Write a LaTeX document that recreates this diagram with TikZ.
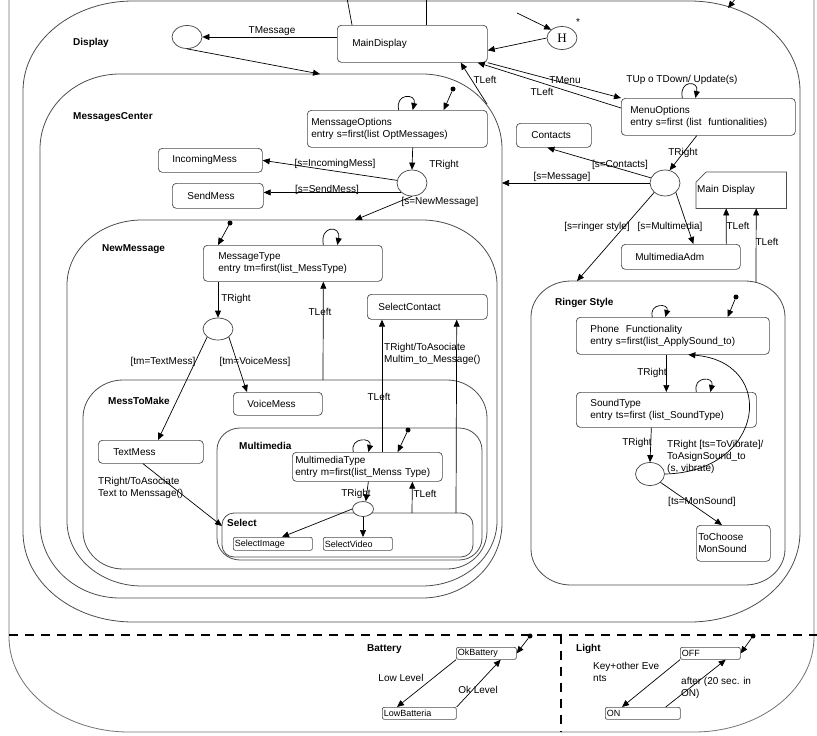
\documentclass[tikz,border=0pt]{standalone}
\usepackage{fontspec}
\setmainfont{Liberation Sans}
\newfontfamily\serifH{Liberation Serif}
\usetikzlibrary{arrows.meta,shapes.geometric,calc}

\newcommand\erect[7][]{%
 \draw[cont,#1] ({#2+#6},#3) -- ({#4-#6},#3)
   .. controls ({#4-#6+0.5523*#6},#3) and (#4,{#3+#7-0.5523*#7}) .. (#4,{#3+#7})
   -- (#4,{#5-#7})
   .. controls (#4,{#5-#7+0.5523*#7}) and ({#4-#6+0.5523*#6},#5) .. ({#4-#6},#5)
   -- ({#2+#6},#5)
   .. controls ({#2+#6-0.5523*#6},#5) and (#2,{#5-#7+0.5523*#7}) .. (#2,{#5-#7})
   -- (#2,{#3+#7})
   .. controls (#2,{#3+#7-0.5523*#7}) and ({#2+#6-0.5523*#6},#3) .. ({#2+#6},#3) -- cycle;}

\tikzset{
  base/.style={font=\fontsize{10}{12}\selectfont},
  box/.style={base, draw=black!70, fill=white, line width=0.7pt, rounded corners=4pt, inner ysep=0pt, anchor=north west, align=left},
  sbox/.style={box, rounded corners=2pt, font=\fontsize{9}{10}\selectfont, inner xsep=1.5pt},
  lab/.style={base, inner sep=0pt},
  mlab/.style={lab, anchor=west, align=left},
  title/.style={font=\fontsize{10}{12}\selectfont\bfseries, inner sep=0pt, anchor=west},
  arr/.style={line width=0.7pt, -{Triangle[length=7pt,width=6pt]}},
  ln/.style={line width=0.7pt},
  choice/.style={draw=black!75, fill=white, line width=0.7pt, ellipse, inner sep=0pt},
  dot/.style={circle, fill=black, inner sep=0pt, minimum size=5pt},
  cont/.style={draw=black!70, line width=0.8pt},
  sepline/.style={line width=1.6pt, dash pattern=on 9pt off 7pt}
}

\begin{document}
\begin{tikzpicture}[x=1pt,y=-1pt]
\useasboundingbox (0,0) rectangle (817,736);
\clip (0,0) rectangle (817,736);

% containers
\erect[draw=black!55]{9}{-200}{814}{732}{120}{95}
\erect{23}{1}{800}{622}{110}{90}
\erect{40}{74}{502}{598}{80}{75}
\erect{67}{220}{497}{586}{75}{65}
\erect{83}{380}{487}{569}{40}{38}
\erect{217}{428}{482}{560}{23}{22}
\erect{222}{513}{473}{557}{12}{12}
\erect{531}{281}{785}{585}{40}{36}

\draw[sepline] (9,635) -- (817,635);
\draw[sepline] (561,635) -- (561,732);

% titles
\node[title] (tDisp) at (73,43) {Display};
\node[title] (tMC) at (73,117) {MessagesCenter};
\node[title] (tNM) at (102,249) {NewMessage};
\node[title] (tM2M) at (108,401) {MessToMake};
\node[title] (tMM) at (239,446) {Multimedia};
\node[title] (tSel) at (227,523) {Select};
\node[title] (tRS) at (555,303) {Ringer Style};
\node[title] (tBat) at (367,649) {Battery};
\node[title] (tLight) at (576,649) {Light};

% states
\node[box, inner xsep=15pt, text width=120pt, minimum height=37pt] (md) at (337,25) {MainDisplay};
\node[box, inner xsep=9pt, text width=156pt, minimum height=37pt] (mo) at (621,98) {MenuOptions\\entry s=first (list\ \ funtionalities)};
\node[box, inner xsep=4pt, text width=172pt, minimum height=37pt] (mso) at (307,110) {MenssageOptions\\entry s=first(list OptMessages)};
\node[box, inner xsep=14pt, text width=76pt, minimum height=24pt] (inc) at (158,148) {IncomingMess};
\node[box, inner xsep=15pt, text width=61pt, minimum height=25pt] (snd) at (172,183) {SendMess};
\node[box, inner xsep=15pt, text width=45pt, minimum height=24pt] (cont) at (516,123) {Contacts};
\node[lab, anchor=north west, minimum width=90pt, minimum height=36pt, text width=88pt, inner xsep=1pt, align=left] (md2) at (696,172) {Main Display};
\draw[draw=black!70, line width=0.7pt] ($(md2.north west)+(0,10)$) -- ($(md2.north west)+(10,0)$) -- (md2.north east) -- (md2.south east) -- (md2.south west) -- cycle;
\node[box, inner xsep=14pt, text width=91pt, minimum height=25pt] (mma) at (621,244) {MultimediaAdm};
\node[box, inner xsep=15pt, text width=149pt, minimum height=36pt] (mt) at (203,245) {MessageType\\entry tm=first(list\_MessType)};
\node[box, inner xsep=11pt, text width=98pt, minimum height=25pt] (sc) at (367,294) {SelectContact};
\node[box, inner xsep=14pt, text width=61pt, minimum height=23pt] (vm) at (233,392) {VoiceMess};
\node[box, inner xsep=15pt, text width=75pt, minimum height=23pt] (tm) at (98,440) {TextMess};
\node[box, inner xsep=3pt, text width=144pt, minimum height=29pt] (mmt) at (292,452) {MultimediaType\\entry m=first(list\_Menss Type)};
\node[sbox, text width=76pt, minimum height=13pt] (si) at (233,537) {SelectImage};
\node[sbox, text width=66pt, minimum height=13pt] (sv) at (323,537) {SelectVideo};
\node[box, inner xsep=14pt, text width=165pt, minimum height=37pt] (pf) at (576,317) {Phone\ \ Functionality\\entry s=first(list\_ApplySound\_to)};
\node[box, inner xsep=14pt, text width=152pt, minimum height=35pt] (st) at (576,392) {SoundType\\entry ts=first (list\_SoundType)};
\node[box, inner xsep=2pt, text width=70pt, minimum height=36pt] (tc) at (696,525) {ToChoose\\MonSound};
\node[sbox, text width=57pt, minimum height=12pt] (okb) at (456,647) {OkBattery};
\node[sbox, text width=71pt, minimum height=12pt] (lowb) at (382,707) {LowBatteria};
\node[sbox, text width=57pt, minimum height=12pt] (off) at (680,647) {OFF};
\node[sbox, text width=72pt, minimum height=12pt] (on) at (605,707) {ON};

% pseudo states
\node[choice, minimum width=30pt, minimum height=23pt] (e1) at (187,37) {};
\node[choice, minimum width=30pt, minimum height=23pt, font=\serifH\fontsize{13}{13}\selectfont] (H) at (562,38) {H};
\node[choice, minimum width=30pt, minimum height=26pt] (c1) at (412,183) {};
\node[choice, minimum width=30pt, minimum height=26pt] (c2) at (665,183) {};
\node[choice, minimum width=30pt, minimum height=22pt] (c3) at (218,329) {};
\node[choice, minimum width=21pt, minimum height=15pt] (c4) at (363,509) {};
\node[choice, minimum width=29pt, minimum height=23pt] (c5) at (650,474) {};
\node[dot] (d1) at (453,89) {};
\node[dot] (d2) at (230,223) {};
\node[dot] (d3) at (408,430) {};
\node[dot] (d4) at (736,297) {};
\node[dot] (d5) at (530,636) {};
\node[dot] (d6) at (753,636) {};

% free ends / container points
\coordinate (mcTop) at (320,74);
\coordinate (mcTL) at (487,104);
\coordinate (mcR) at (502,183);
\coordinate (nmTop) at (355,220);
\coordinate (m2mTop) at (323,380);
\coordinate (selTop) at (456,513);
\coordinate (selT2) at (412,513);
\coordinate (selW) at (222,526);
\coordinate (ringTop) at (577,281);
\coordinate (ringTR) at (756,282);
\coordinate (hin) at (517,13);
\coordinate (topA) at (347,-2);
\coordinate (topB) at (426,-2);
\coordinate (trA) at (736,-2);
\coordinate (trB) at (728,8);

% labels
\node[lab] (l1) at (272,31) {TMessage};
\node[lab] (l2) at (565,80) {TMenu};
\node[lab] (l3) at (542,92) {TLeft};
\node[lab] (l4) at (485,80) {TLeft};
\node[lab] (l5) at (682,80) {TUp o TDown/ Update(s)};
\node[lab] (l6) at (444,165) {TRight};
\node[lab] (l7) at (335,164) {[s=IncomingMess]};
\node[lab] (l8) at (327,190) {[s=SendMess]};
\node[lab] (l9) at (440,202) {[s=NewMessage]};
\node[lab] (l10) at (683,153) {TRight};
\node[lab] (l11) at (620,165) {[s=Contacts]};
\node[lab] (l12) at (562,177) {[s=Message]};
\node[lab] (l13) at (597,227) {[s=ringer style]};
\node[lab] (l14) at (670,227) {[s=Multimedia]};
\node[lab] (l15) at (738,226) {TLeft};
\node[lab] (l16) at (767,242) {TLeft};
\node[lab] (l17) at (236,299) {TRight};
\node[lab] (l18) at (320,312) {TLeft};
\node[lab] (l19) at (163,362) {[tm=TextMess]};
\node[lab] (l20) at (255,362) {[tm=VoiceMess]};
\node[mlab] (l21) at (384,354) {TRight/ToAsociate\\Multim\_to\_Message()};
\node[lab] (l22) at (379,397) {TLeft};
\node[mlab] (l23) at (98,488) {TRight/ToAsociate\\Text to Menssage()};
\node[lab] (l24) at (356,494) {TRight};
\node[lab] (l25) at (425,494) {TLeft};
\node[lab] (l26) at (652,373) {TRight};
\node[lab] (l27) at (637,443) {TRight};
\node[mlab] (l28) at (667,457) {TRight [ts=ToVibrate]/\\ToAsignSound\_to\\(s, vibrate)};
\node[lab] (l29) at (702,502) {[ts=MonSound]};
\node[lab] (l30) at (401,678) {Low Level};
\node[lab] (l31) at (478,690) {Ok Level};
\node[mlab] (l32) at (593,672) {Key+other Eve\\nts};
\node[mlab] (l33) at (681,688) {after (20 sec. in\\ON)};
\node[lab] (l34) at (578,22) {*};

% connectors
\draw[arr] (e1.east -| md.west) -- (e1.east);
\draw[arr] (e1.south) -- (mcTop);
\draw[arr] (H.west) -- ([yshift=-6.5pt]md.east);
\draw[arr] (hin) -- (H.north west);
\draw[ln] (topA) -- ([xshift=15pt]md.north west);
\draw[ln] (topB) -- ([xshift=89pt]md.north west);
\draw[arr] (trA) -- (trB);
\draw[arr] (md.south east) -- (mo.north west);
\draw[arr] ([yshift=-10pt]mo.north west) -- ([xshift=-10pt]md.south east);
\draw[arr] (mcTL) -- ([xshift=-27pt]md.south east);
\draw[arr] ([xshift=-26pt]mo.north) .. controls +(-4,-18) and +(4,-18) .. ([xshift=-13pt]mo.north);

\draw[arr] (d1) -- ([xshift=-44pt]mso.north east);
\draw[arr] ([xshift=-89pt]mso.north east) .. controls +(-4,-17) and +(4,-17) .. ([xshift=-75pt]mso.north east);
\draw[arr] ([xshift=-75pt]mso.south east) -- (c1.north);
\draw[arr] (c1.170) -- (inc.east);
\draw[arr] (c1.south west) -- (c1.south west -| snd.east);
\draw[arr] (c1.south) -- (nmTop);

\draw[arr] ([xshift=-99pt]mo.south east) -- (c2.70);
\draw[arr] (c2.160) -- ([xshift=-6.5pt]cont.south);
\draw[arr] (c2.west) -- (mcR);
\draw[arr] (c2.south west) -- (ringTop);
\draw[arr] (c2.south east) -- ([xshift=12.5pt]mma.north);
\draw[arr] ([xshift=45.5pt]mma.north) -- ([xshift=-15pt]md2.south);
\draw[arr] (ringTR) -- ([xshift=15pt]md2.south);

\draw[arr] (d2) -- ([xshift=15pt]mt.north west);
\draw[arr] ([xshift=30.5pt]mt.north) .. controls +(-4,-20) and +(4,-20) .. ([xshift=44.5pt]mt.north);
\draw[arr] ([xshift=15pt]mt.south west) -- (c3.north);
\draw[arr] (c3.south west) -- ([xshift=60pt]tm.north west);
\draw[arr] (c3.south east) -- ([xshift=14pt]vm.north west);
\draw[arr] (m2mTop) -- ([xshift=30.5pt]mt.south);
\draw[arr] ([xshift=90pt]mmt.north west) -- ([xshift=15pt]sc.south west);
\draw[arr] (selTop) -- ([xshift=-31pt]sc.south east);
\draw[arr] ([xshift=45pt]tm.south west) -- (selW);
\draw[arr] (d3) -- ([xshift=-45pt]mmt.north east);
\draw[arr] ([xshift=-14pt]mmt.north) .. controls +(-4,-15) and +(4,-15) .. ([xshift=1pt]mmt.north);
\draw[arr] ([xshift=1pt]mmt.south) -- (c4.70);
\draw[arr] (selT2) -- ([xshift=45pt]mmt.south);
\draw[arr] (c4.west) -- ([xshift=49pt]si.north west);
\draw[arr] (c4.south) -- (c4.south |- sv.north);

\draw[arr] (d4) -- ([xshift=-42pt]pf.north east);
\draw[arr] ([xshift=-20.5pt]pf.north) .. controls +(-4,-14) and +(4,-14) .. ([xshift=-7.5pt]pf.north);
\draw[arr] ([xshift=-6.5pt]pf.south) -- (st.north);
\draw[arr] ([xshift=30pt]st.north) .. controls +(-4,-16) and +(4,-16) .. ([xshift=44pt]st.north);
\draw[arr] ([xshift=-15pt]st.south) -- (c5.north);
\draw[arr] (c5.east) .. controls (765,472) and (778,362) .. ([xshift=15.5pt]pf.south);
\draw[arr] (c5.south east) -- ([xshift=26pt]tc.north west);

\draw[arr] (d5) -- (okb.east);
\draw[arr] (okb.south west) -- ([xshift=15pt]lowb.north west);
\draw[arr] (lowb.north east) -- ([xshift=-16pt]okb.south east);
\draw[arr] (d6) -- (off.east);
\draw[arr] (off.south west) -- ([xshift=17pt]on.north west);
\draw[arr] ([xshift=-15pt]on.north east) -- ([xshift=-15pt]off.south east);
\end{tikzpicture}
\end{document}
